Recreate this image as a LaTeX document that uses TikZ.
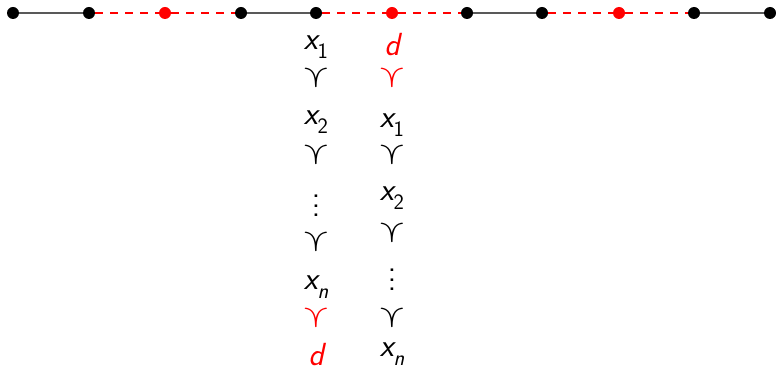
\RequirePackage{fix-cm}
\documentclass[tikz,border=0pt]{standalone}
\usepackage{amssymb}
\usepackage{graphicx}
\newcommand{\myprec}{\scalebox{1.2}[1]{\rotatebox[origin=c]{-90}{$\succ$}}}
\newcommand{\vx}[1]{{\slshape x}\raisebox{-0.3em}{\fontsize{22}{24}\selectfont #1}}
\newcommand{\myvdots}{\vbox{\baselineskip=0.3em\lineskiplimit=-10pt\hbox{.}\hbox{.}\hbox{.}}}
\begin{document}
\begin{tikzpicture}[x=1pt,y=-1pt,
  dot/.style={circle,fill=black,inner sep=0pt,minimum size=12pt},
  rdot/.style={circle,fill=red,inner sep=0pt,minimum size=12pt},
  sline/.style={draw=black!65,line width=1.2pt},
  dline/.style={draw=red,line width=1.6pt,dash pattern=on 8pt off 7pt},
  lab/.style={inner sep=0pt,font=\sffamily\fontsize{32}{36}\selectfont},
  rlab/.style={lab,text=red}]
\useasboundingbox (0,0) rectangle (776,371);
\foreach \i/\x/\s in {1/13/dot,2/89/dot,3/165/rdot,4/241/dot,5/316/dot,6/392/rdot,7/467/dot,8/542/dot,9/619/rdot,10/694/dot,11/770/dot}
  \node[\s] (p\i) at (\x,13) {};
\draw[sline] (p1) -- (p2);
\draw[dline] (p2) -- (p3) -- (p4);
\draw[sline] (p4) -- (p5);
\draw[dline] (p5) -- (p6) -- (p7);
\draw[sline] (p7) -- (p8);
\draw[dline] (p8) -- (p9) -- (p10);
\draw[sline] (p10) -- (p11);
% column 1
\node[lab] (a1) at (316,47) {\vx{1}};
\node[lab] (a2) at (316,78) {\myprec};
\node[lab] (a3) at (316,122) {\vx{2}};
\node[lab] (a4) at (316,155) {\myprec};
\node[lab] (a5) at (316,206) {\myvdots};
\node[lab] (a6) at (316,242) {\myprec};
\node[lab] (a7) at (316,287) {\vx{\slshape n}};
\node[rlab] (a8) at (316,318) {\myprec};
\node[rlab] (a9) at (316,355) {\slshape d};
% column 2
\node[rlab] (b1) at (392,45) {\slshape d};
\node[rlab] (b2) at (392,78) {\myprec};
\node[lab] (b3) at (392,125) {\vx{1}};
\node[lab] (b4) at (392,155) {\myprec};
\node[lab] (b5) at (392,198) {\vx{2}};
\node[lab] (b6) at (392,233) {\myprec};
\node[lab] (b7) at (392,280) {\myvdots};
\node[lab] (b8) at (392,318) {\myprec};
\node[lab] (b9) at (392,354) {\vx{\slshape n}};
\end{tikzpicture}
\end{document}
